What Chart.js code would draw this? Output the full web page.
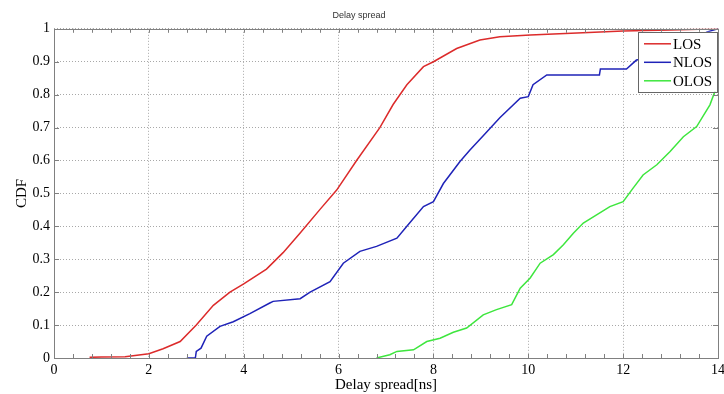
<!DOCTYPE html>
<html>
<head>
<meta charset="utf-8">
<title>Delay spread</title>
<script src="https://cdn.jsdelivr.net/npm/chart.js@4.4.1/dist/chart.umd.min.js"></script>
<style>
  html, body { margin: 0; padding: 0; background: #fff; }
  #wrap { width: 724px; height: 394px; }
</style>
</head>
<body>
<div id="wrap"><canvas id="cdf"></canvas></div>
<script>
// empirical CDFs of the delay spread, one per propagation condition
const losX = [0.75, 1.0, 1.5, 2.0, 2.3, 2.66, 3.0, 3.36, 3.71, 4.0, 4.48, 4.83, 5.19, 5.6, 5.96, 6.38, 6.87, 7.15, 7.44, 7.79, 8.0, 8.49, 8.98, 9.4, 10.04, 11.15, 12.0, 13.0, 14.0];
const losY = [0.002, 0.003, 0.004, 0.013, 0.028, 0.05, 0.10, 0.16, 0.20, 0.225, 0.27, 0.32, 0.38, 0.45, 0.51, 0.60, 0.70, 0.77, 0.83, 0.885, 0.90, 0.94, 0.966, 0.976, 0.981, 0.988, 0.993, 0.996, 1.0];

const nlosX = [2.80, 2.98, 3.0, 3.1, 3.22, 3.5, 3.78, 4.13, 4.55, 4.62, 5.19, 5.40, 5.82, 6.10, 6.45, 6.80, 7.23, 7.44, 7.79, 8.0, 8.21, 8.56, 8.77, 9.05, 9.40, 9.83, 10.0, 10.1, 10.39, 11.5, 11.52, 12.07, 12.28, 12.5, 13.0, 13.5, 13.76, 14.0];
const nlosY = [0, 0, 0.02, 0.03, 0.066, 0.096, 0.11, 0.135, 0.167, 0.172, 0.18, 0.20, 0.232, 0.288, 0.324, 0.339, 0.364, 0.40, 0.46, 0.475, 0.53, 0.597, 0.632, 0.675, 0.73, 0.789, 0.794, 0.83, 0.86, 0.86, 0.878, 0.878, 0.905, 0.91, 0.93, 0.96, 0.99, 1.0];

const olosX = [6.80, 7.08, 7.23, 7.58, 7.86, 8.14, 8.42, 8.70, 9.05, 9.33, 9.65, 9.83, 10.04, 10.25, 10.53, 10.74, 10.95, 11.16, 11.44, 11.72, 12.0, 12.21, 12.42, 12.71, 12.99, 13.27, 13.55, 13.83, 14.0];
const olosY = [0, 0.01, 0.02, 0.025, 0.05, 0.06, 0.078, 0.091, 0.131, 0.147, 0.162, 0.212, 0.243, 0.288, 0.314, 0.344, 0.379, 0.41, 0.435, 0.46, 0.475, 0.516, 0.556, 0.587, 0.627, 0.672, 0.703, 0.769, 0.835];

const seriesLabels = ["LOS", "NLOS", "OLOS"];
const seriesColors = ["#dc2b2b", "#1f23b8", "#3ee63e"];

const xMin = 0, xMax = 14, xStep = 2, xMinorStep = 0.4;
const yMin = 0, yMax = 1, yStep = 0.1;

const serif = "'Liberation Serif', 'Times New Roman', serif";

function toPoints(xs, ys) {
  return xs.map((x, i) => ({ x: x, y: ys[i] }));
}

// matlab-style box with inward ticks on all four sides
const axesBox = {
  id: "axesBox",
  afterDatasetsDraw(chart) {
    const { ctx, chartArea: a, scales: { x, y } } = chart;
    ctx.save();
    ctx.strokeStyle = "#808080";
    ctx.lineWidth = 1;
    ctx.beginPath();
    for (let v = xMin; v <= xMax + 1e-9; v += xMinorStep) {
      const px = Math.round(x.getPixelForValue(v)) + 0.5;
      ctx.moveTo(px, a.bottom); ctx.lineTo(px, a.bottom - 4);
      ctx.moveTo(px, a.top); ctx.lineTo(px, a.top + 4);
    }
    for (let v = yMin; v <= yMax + 1e-9; v += yStep) {
      const py = Math.round(y.getPixelForValue(v)) + 0.5;
      ctx.moveTo(a.left, py); ctx.lineTo(a.left + 5, py);
      ctx.moveTo(a.right, py); ctx.lineTo(a.right - 5, py);
    }
    ctx.stroke();
    ctx.strokeRect(Math.round(a.left) + 0.5, Math.round(a.top) + 0.5,
                   Math.round(a.right - a.left), Math.round(a.bottom - a.top));
    ctx.restore();
  }
};

// legend box in the upper right corner of the axes
const innerLegend = {
  id: "innerLegend",
  afterDraw(chart) {
    const { ctx, chartArea: a } = chart;
    const w = 79, h = 60;
    const left = a.right - w - 1, top = a.top + 3;
    ctx.save();
    ctx.fillStyle = "#fff";
    ctx.fillRect(left, top, w, h);
    ctx.strokeStyle = "#666";
    ctx.lineWidth = 1;
    ctx.strokeRect(Math.round(left) + 0.5, Math.round(top) + 0.5, w, h);
    ctx.font = "15px " + serif;
    ctx.textBaseline = "middle";
    ctx.textAlign = "left";
    chart.data.datasets.forEach((ds, i) => {
      const cy = top + 12 + i * 18.5;
      ctx.strokeStyle = ds.borderColor;
      ctx.lineWidth = 1.5;
      ctx.beginPath();
      ctx.moveTo(left + 6, cy);
      ctx.lineTo(left + 33, cy);
      ctx.stroke();
      ctx.fillStyle = "#000";
      ctx.fillText(ds.label, left + 35, cy + 1);
    });
    ctx.restore();
  }
};

const datasets = [
  toPoints(losX, losY),
  toPoints(nlosX, nlosY),
  toPoints(olosX, olosY)
].map((pts, i) => ({
  label: seriesLabels[i],
  data: pts,
  borderColor: seriesColors[i],
  backgroundColor: seriesColors[i],
  borderWidth: 1.5,
  pointRadius: 0,
  tension: 0,
  fill: false
}));

new Chart(document.getElementById("cdf").getContext("2d"), {
  type: "line",
  data: { datasets },
  options: {
    responsive: true,
    maintainAspectRatio: false,
    animation: false,
    layout: { padding: { left: 0, right: 6, top: 0, bottom: 0 } },
    plugins: {
      legend: { display: false },
      tooltip: { enabled: false },
      title: {
        display: true,
        text: "Delay spread",
        color: "#333",
        font: { family: "'Liberation Sans', Arial, sans-serif", size: 9, weight: "normal" },
        padding: { top: 10, bottom: 8 }
      }
    },
    scales: {
      x: {
        type: "linear",
        min: xMin,
        max: xMax,
        border: { display: false, dash: [1, 2] },
        grid: { color: "#a8a8a8", lineWidth: 1, drawTicks: false },
        ticks: {
          stepSize: xStep,
          color: "#000",
          padding: 4,
          maxRotation: 0,
          font: { family: serif, size: 14 }
        },
        title: {
          display: true,
          text: "Delay spread[ns]",
          color: "#000",
          font: { family: serif, size: 15 },
          padding: { top: 0, bottom: 0 }
        },
        afterFit(scale) {
          scale.height = 36;
          scale.paddingRight = 6;
        }
      },
      y: {
        type: "linear",
        min: yMin,
        max: yMax,
        border: { display: false, dash: [1, 2] },
        grid: { color: "#a8a8a8", lineWidth: 1, drawTicks: false },
        ticks: {
          stepSize: yStep,
          color: "#000",
          padding: 4,
          font: { family: serif, size: 14 },
          callback: v => String(Number(v.toFixed(1)))
        },
        title: {
          display: true,
          text: "CDF",
          color: "#000",
          font: { family: serif, size: 15 },
          padding: { top: 13, bottom: 0 }
        },
        afterFit(scale) {
          scale.width = 54;
        }
      }
    }
  },
  plugins: [axesBox, innerLegend]
});
</script>
</body>
</html>
